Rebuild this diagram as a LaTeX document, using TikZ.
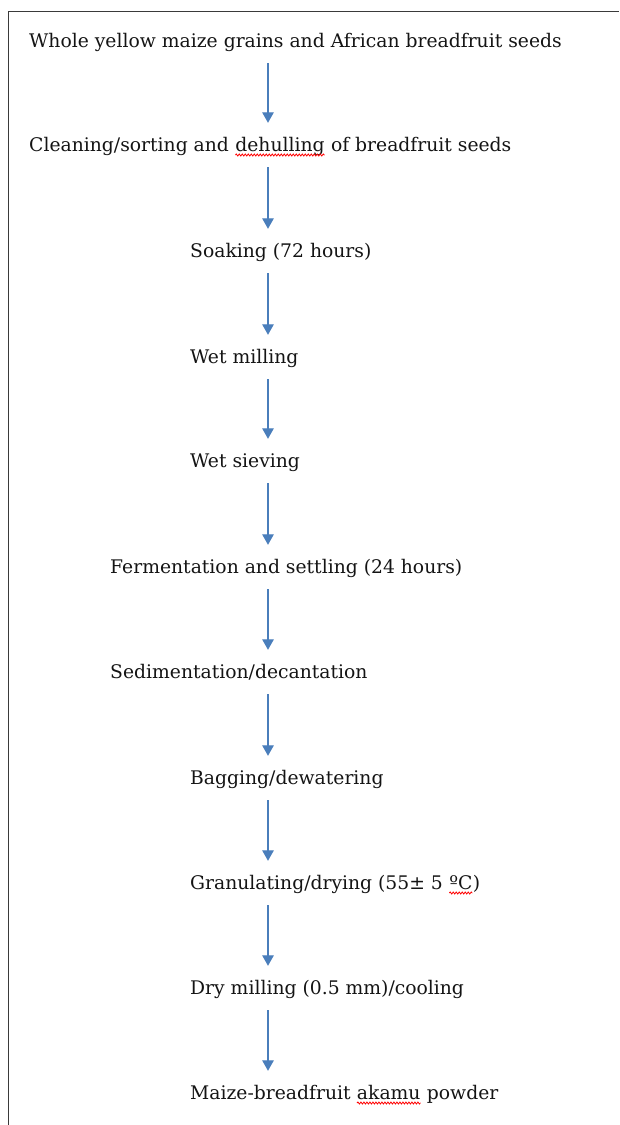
\documentclass[tikz,border=0pt]{standalone}
\usepackage{fontspec}
\setmainfont{DejaVu Serif}
\usepackage{tikz}
\usetikzlibrary{arrows.meta,decorations.pathmorphing}
\definecolor{FlowBlue}{HTML}{4A7EBB}
\definecolor{FrameGray}{HTML}{3A3A3A}
\newcommand{\spellmark}[1]{\tikz[baseline=(w.base)]{\node[inner sep=0pt,outer sep=0pt] (w) {#1};
  \draw[red,line width=0.8pt,decorate,decoration={snake,amplitude=1pt,segment length=3pt}] ([yshift=-4pt]w.base west) -- ([yshift=-4pt]w.base east);}}

\begin{document}
\begin{tikzpicture}[
  x=1pt,y=-1pt,
  stage/.style={anchor=base west,inner sep=0pt,text height=13pt,text depth=4.5pt,font=\fontsize{18.75}{22}\selectfont,text=black!92},
  arr/.style={-{Triangle[width=11.5pt,length=10.5pt]},line width=1.3pt,draw=FlowBlue,shorten <=11.5pt,shorten >=15pt}
]
\useasboundingbox (0,0) rectangle (619,1125);
\draw[FrameGray,line width=1.1pt] (8.5,1125) -- (8.5,11.5) -- (619,11.5);
\coordinate (ax) at (268,0);
\node[stage] (whole) at (29,47) {Whole yellow maize grains and African breadfruit seeds};
\node[stage] (clean) at (29,151) {Cleaning/sorting and \spellmark{dehulling} of breadfruit seeds};
\node[stage] (soak) at (190,257) {Soaking (72 hours)};
\node[stage] (wetmill) at (190,363) {Wet milling};
\node[stage] (sieve) at (190,467) {Wet sieving};
\node[stage] (ferment) at (110,573) {Fermentation and settling (24 hours)};
\node[stage] (sediment) at (110,678) {Sedimentation/decantation};
\node[stage] (bag) at (190,784) {Bagging/dewatering};
\node[stage] (granul) at (190,889) {Granulating/drying (55± 5 \spellmark{ºC})};
\node[stage] (drymill) at (190,994) {Dry milling (0.5 mm)/cooling};
\node[stage] (powder) at (190,1099) {Maize-breadfruit \spellmark{akamu} powder};
\draw[arr] (whole.south -| ax) -- (clean.north -| ax);
\draw[arr] (clean.south -| ax) -- (soak.north -| ax);
\draw[arr] (soak.south -| ax) -- (wetmill.north -| ax);
\draw[arr] (wetmill.south -| ax) -- (sieve.north -| ax);
\draw[arr] (sieve.south -| ax) -- (ferment.north -| ax);
\draw[arr] (ferment.south -| ax) -- (sediment.north -| ax);
\draw[arr] (sediment.south -| ax) -- (bag.north -| ax);
\draw[arr] (bag.south -| ax) -- (granul.north -| ax);
\draw[arr] (granul.south -| ax) -- (drymill.north -| ax);
\draw[arr] (drymill.south -| ax) -- (powder.north -| ax);
\end{tikzpicture}
\end{document}
